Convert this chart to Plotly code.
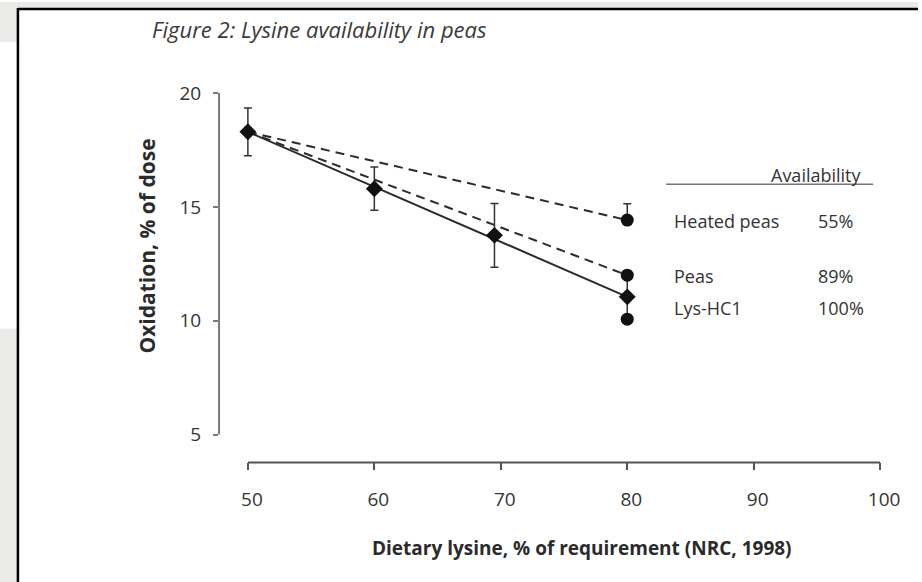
import plotly.graph_objects as go

W, H = 922, 582

# ---- data ----
lys_x = [50, 60, 69.5, 80]
lys_y = [18.3, 15.8, 13.75, 11.05]
lys_err = [1.05, 0.95, 1.4, 0.9]

heated_x = [80]
heated_y = [14.42]
heated_err_plus = [0.72]

peas_x = [80]
peas_y = [12.0]

extra_x = [80]
extra_y = [10.07]

fit_x = [50, 80]
lys_fit = [18.3, 11.05]
peas_fit = [18.3, 12.0]
heated_fit = [18.3, 14.42]

x_ticks = [50, 60, 70, 80, 90, 100]
y_ticks = [5, 10, 15, 20]

legend_names = ["Heated peas", "Peas", "Lys-HC1"]
legend_values = ["55%", "89%", "100%"]

FONT = "Open Sans"
INK = "#2b2b2b"

def px(x):
    return x / W

def py(y):
    return 1 - y / H

fig = go.Figure()

# fitted lines
fig.add_trace(go.Scatter(x=fit_x, y=heated_fit, mode="lines",
                         line=dict(color=INK, width=2, dash="9px,6px"), hoverinfo="skip"))
fig.add_trace(go.Scatter(x=fit_x, y=peas_fit, mode="lines",
                         line=dict(color=INK, width=2, dash="9px,6px"), hoverinfo="skip"))
fig.add_trace(go.Scatter(x=fit_x, y=lys_fit, mode="lines",
                         line=dict(color=INK, width=2), hoverinfo="skip"))

# observed points
fig.add_trace(go.Scatter(x=lys_x, y=lys_y, mode="markers",
                         marker=dict(symbol="diamond", size=13, color="#111"),
                         error_y=dict(type="data", array=lys_err, color="#333",
                                      thickness=1.5, width=4)))
fig.add_trace(go.Scatter(x=heated_x, y=heated_y, mode="markers",
                         marker=dict(symbol="circle", size=13, color="#111"),
                         error_y=dict(type="data", array=heated_err_plus, arrayminus=[0],
                                      symmetric=False, color="#333", thickness=1.5, width=4)))
fig.add_trace(go.Scatter(x=peas_x, y=peas_y, mode="markers",
                         marker=dict(symbol="circle", size=13, color="#111")))
fig.add_trace(go.Scatter(x=extra_x, y=extra_y, mode="markers",
                         marker=dict(symbol="circle", size=13, color="#111")))

shapes = []
GRAY = "#eaeae8"
# page background pieces
shapes.append(dict(type="rect", xref="paper", yref="paper", x0=0, x1=1, y0=py(6), y1=1,
                   fillcolor=GRAY, line=dict(width=0), layer="below"))
shapes.append(dict(type="rect", xref="paper", yref="paper", x0=0, x1=px(18), y0=py(40), y1=1,
                   fillcolor=GRAY, line=dict(width=0), layer="below"))
shapes.append(dict(type="rect", xref="paper", yref="paper", x0=0, x1=px(18), y0=0, y1=py(328),
                   fillcolor=GRAY, line=dict(width=0), layer="below"))
# box border
shapes.append(dict(type="line", xref="paper", yref="paper", x0=px(18), x1=1, y0=py(7), y1=py(7),
                   line=dict(color="#000", width=2.5)))
shapes.append(dict(type="line", xref="paper", yref="paper", x0=px(18), x1=px(18), y0=0, y1=py(6),
                   line=dict(color="#000", width=2.5)))
# detached axis lines
shapes.append(dict(type="line", xref="x domain", yref="y", x0=0, x1=0, y0=y_ticks[0], y1=y_ticks[-1],
                   line=dict(color="#7a7a7a", width=2)))
shapes.append(dict(type="line", xref="x", yref="y domain", x0=x_ticks[0], x1=x_ticks[-1], y0=0, y1=0,
                   line=dict(color="#555", width=2)))
# legend rule
shapes.append(dict(type="line", xref="paper", yref="paper", x0=px(669), x1=px(877), y0=py(183), y1=py(183),
                   line=dict(color="#777", width=1.5)))

annotations = []
annotations.append(dict(text="<i>Figure 2: Lysine availability in peas</i>", xref="paper", yref="paper",
                        x=px(151), y=py(27), xanchor="left", yanchor="middle", showarrow=False,
                        font=dict(family=FONT, size=22, color="#3a3a3a")))
annotations.append(dict(text="<b>Oxidation, % of dose</b>", xref="paper", yref="paper",
                        x=px(148), y=py(245), xanchor="center", yanchor="middle", showarrow=False,
                        textangle=-90, font=dict(family=FONT, size=21, color=INK)))
annotations.append(dict(text="<b>Dietary lysine, % of requirement (NRC, 1998)</b>", xref="paper", yref="paper",
                        x=px(585), y=py(548), xanchor="center", yanchor="middle", showarrow=False,
                        font=dict(family=FONT, size=19, color=INK)))
annotations.append(dict(text="Availability", xref="paper", yref="paper",
                        x=px(820), y=py(174), xanchor="center", yanchor="middle", showarrow=False,
                        font=dict(family=FONT, size=18, color="#333")))
legend_y = [220, 275, 307]
for name, val, yy in zip(legend_names, legend_values, legend_y):
    annotations.append(dict(text=name, xref="paper", yref="paper", x=px(675), y=py(yy),
                            xanchor="left", yanchor="middle", showarrow=False,
                            font=dict(family=FONT, size=18, color="#333")))
    annotations.append(dict(text=val, xref="paper", yref="paper", x=px(820), y=py(yy),
                            xanchor="left", yanchor="middle", showarrow=False,
                            font=dict(family=FONT, size=18, color="#333")))

fig.update_layout(
    width=W, height=H,
    margin=dict(l=0, r=0, t=0, b=0),
    paper_bgcolor="white", plot_bgcolor="rgba(0,0,0,0)",
    showlegend=False,
    shapes=shapes, annotations=annotations,
    xaxis=dict(domain=[px(220), px(900)], range=[47.72, 101.26], showline=False, showgrid=False,
               zeroline=False, tickvals=x_ticks, ticks="outside", ticklen=7, tickwidth=1.5,
               tickcolor="#555", ticklabelstandoff=13, ticklabelshift=4,
               tickfont=dict(family=FONT, size=19, color="#333"), fixedrange=True),
    yaxis=dict(domain=[py(462), py(80)], range=[3.775, 20.5], showline=False, showgrid=False,
               zeroline=False, tickvals=y_ticks, ticks="outside", ticklen=5, tickwidth=1.5,
               tickcolor="#7a7a7a", ticklabelstandoff=8,
               tickfont=dict(family=FONT, size=19, color="#333"), fixedrange=True),
)

fig.write_html("out.html", config={"displayModeBar": False},
               post_script="document.body.style.margin='0';document.body.style.overflow='hidden';")
